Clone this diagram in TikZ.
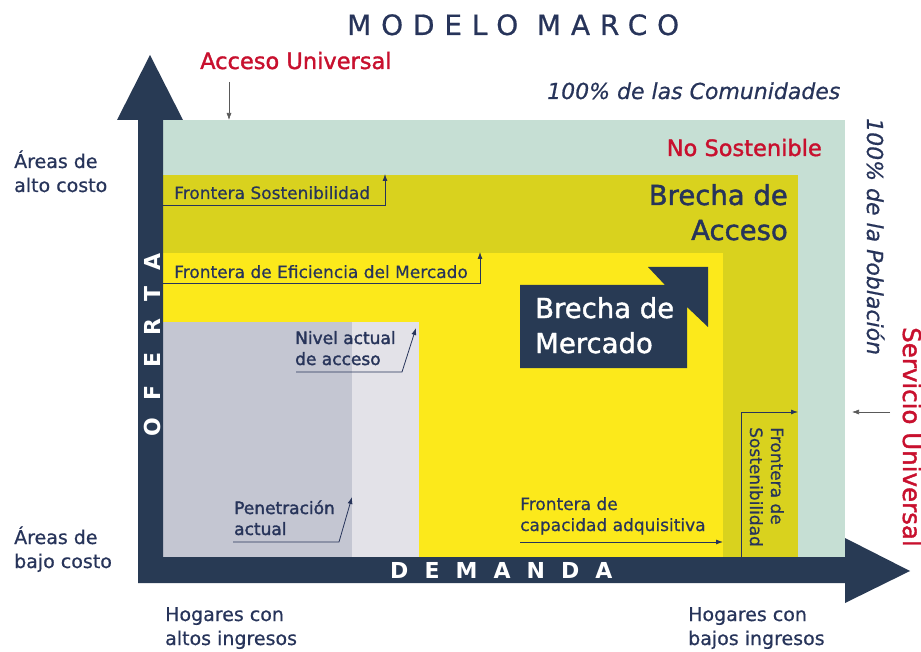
\documentclass[tikz,border=0pt]{standalone}
\usepackage{fontspec}
\setmainfont{DejaVu Sans}
\usetikzlibrary{arrows.meta}
\definecolor{navy}{HTML}{283A54}
\definecolor{txt}{HTML}{27345A}
\definecolor{mint}{HTML}{C6DFD4}
\definecolor{olive}{HTML}{D9D21E}
\definecolor{yell}{HTML}{FCE91B}
\definecolor{grayA}{HTML}{C4C6D2}
\definecolor{grayB}{HTML}{E3E2E8}
\definecolor{redA}{HTML}{C8102E}
\begin{document}
\begin{tikzpicture}[x=1pt,y=-1pt,
  lbl/.style={inner sep=0pt, anchor=base west, text=txt, align=left},
  conn/.style={draw=txt, line width=0.8pt, -{Latex[length=7pt,width=5pt]}},
  thinconn/.style={draw=gray!70!black, line width=0.6pt, -{Latex[length=7pt,width=5pt]}},
  f17/.style={font=\fontsize{17}{21}\selectfont\addfontfeature{FakeBold=0.6}},
  f17b/.style={font=\fontsize{17}{21}\selectfont\addfontfeature{FakeBold=1.8}},
  f19/.style={font=\fontsize{19}{24}\selectfont\addfontfeature{FakeBold=0.6}},
  f22/.style={font=\fontsize{22.5}{27}\selectfont\addfontfeature{FakeBold=1.5}},
  f22i/.style={font=\fontsize{22}{27}\selectfont\itshape\addfontfeature{FakeBold=0.6}},
  big/.style={font=\fontsize{27.5}{35}\selectfont\addfontfeature{FakeBold=1.5}},
  axislbl/.style={lbl, text=white, font=\fontsize{22}{26}\selectfont\bfseries\addfontfeature{LetterSpace=#1}},
]
\useasboundingbox (0,0) rectangle (921,652);
\fill[white] (0,0) rectangle (921,652);
% regions
\fill[mint] (163,120) rectangle (845,557);
\fill[olive] (163,175) rectangle (798,557);
\fill[yell] (163,253) rectangle (723,557);
\fill[grayA] (163,322) rectangle (352,557);
\fill[grayB] (352,322) rectangle (419,557);
% axes
\fill[navy] (117,120) -- (150,55) -- (183,120) -- (163,120) -- (163,557) -- (845,557)
  -- (845,538) -- (910,571) -- (845,603) -- (845,583) -- (138,583) -- (138,120) -- cycle;
% title
\node[lbl, font=\fontsize{28}{32}\selectfont\addfontfeature{LetterSpace=35,FakeBold=0.6}] (title) at (347,35) {MODELO MARCO};
% axis labels
\node[axislbl=80, rotate=90] (oferta) at (160,437) {OFERTA};
\node[axislbl=73] (demanda) at (390,578) {DEMANDA};
% top labels
\node[lbl, f22, text=redA] (acceso) at (200,69) {Acceso Universal};
\coordinate (accA) at (229,82);
\coordinate (accB) at (229,120);
\draw[thinconn] (accA) -- (accB);
\node[lbl, f22i] (comun) at (547,99) {100\% de las Comunidades};
\node[lbl, f22, text=redA, anchor=base east] (nosost) at (822,156) {No Sostenible};
\node[lbl, big, anchor=base east, align=right] (bacceso) at (788,240) {Brecha de\\Acceso};
% side labels
\node[lbl, f19] (alto) at (14,192) {Áreas de\\alto costo};
\node[lbl, f19] (bajo) at (14,568) {Áreas de\\bajo costo};
\node[lbl, f19] (hogA) at (165,645) {Hogares con\\altos ingresos};
\node[lbl, f19] (hogB) at (688,645) {Hogares con\\bajos ingresos};
% right rotated labels
\node[lbl, f22i, rotate=-90] (pobl) at (867,118) {100\% de la Población};
\node[lbl, text=redA, font=\fontsize{24.5}{28}\selectfont\addfontfeature{FakeBold=1.5}, rotate=-90] (servicio) at (903,327) {Servicio Universal};
\coordinate (srvA) at (890,412);
\coordinate (srvB) at (852,412);
\draw[thinconn] (srvA) -- (srvB);
% frontera sostenibilidad
\node[lbl, f17] (fsost) at (174,199) {Frontera Sostenibilidad};
\coordinate (fsA) at (163,205);
\coordinate (fsB) at (385,205);
\coordinate (fsC) at (385,174);
\draw[conn] (fsA) -- (fsB) -- (fsC);
% frontera eficiencia
\node[lbl, f17] (fefic) at (174,278) {Frontera de Eficiencia del Mercado};
\coordinate (feA) at (163,283);
\coordinate (feB) at (480,283);
\coordinate (feC) at (480,252);
\draw[conn] (feA) -- (feB) -- (feC);
% brecha de mercado
\fill[navy] (520,285) -- (665,285) -- (648,267) -- (708,267) -- (708,327) -- (687,307)
  -- (687,368) -- (520,368) -- cycle;
\node[lbl, big, text=white] (bmerc) at (535,353) {Brecha de\\Mercado};
% nivel actual
\node[lbl, f17b] (nivel) at (295,365) {Nivel actual\\de acceso};
\coordinate (nvA) at (296,372);
\coordinate (nvB) at (402,372);
\coordinate (nvC) at (416,328);
\draw[conn] (nvA) -- (nvB) -- (nvC);
% penetracion
\node[lbl, f17b] (penet) at (234,535) {Penetración\\actual};
\coordinate (peA) at (233,542);
\coordinate (peB) at (339,542);
\coordinate (peC) at (352,497);
\draw[conn] (peA) -- (peB) -- (peC);
% capacidad adquisitiva
\node[lbl, f17] (capac) at (520,531) {Frontera de\\capacidad adquisitiva};
\coordinate (caA) at (520,542);
\coordinate (caB) at (723,542);
\draw[conn] (caA) -- (caB);
% vertical frontera de sostenibilidad
\node[lbl, f17, rotate=-90] (fsvert) at (750,427) {Frontera de\\Sostenibilidad};
\coordinate (fvA) at (741,557);
\coordinate (fvB) at (741,412);
\coordinate (fvC) at (798,412);
\draw[conn] (fvA) -- (fvB) -- (fvC);
\end{tikzpicture}
\end{document}
